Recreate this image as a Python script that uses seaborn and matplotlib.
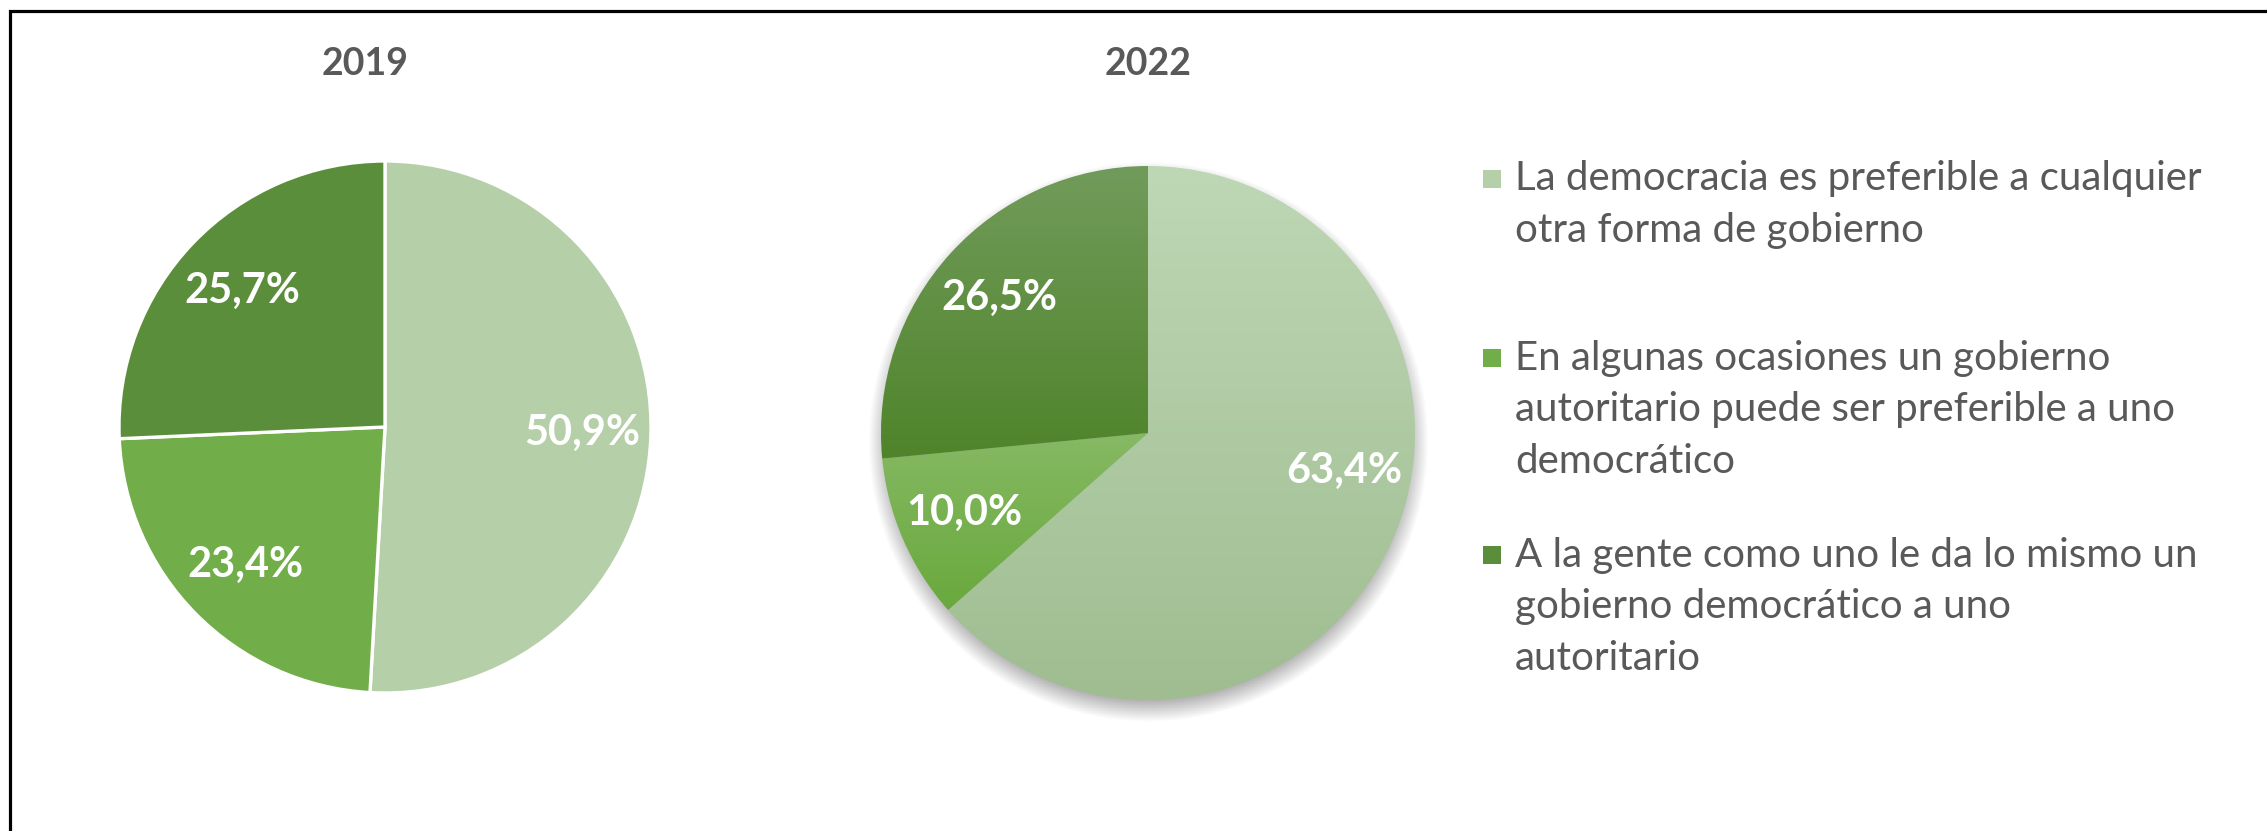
import matplotlib.pyplot as plt
import numpy as np
import seaborn as sns
from matplotlib.colors import LinearSegmentedColormap

sns.set_theme(style="white")
plt.rcParams['font.family'] = ['Lato', 'DejaVu Sans']

# Data
categories = [
    "La democracia es preferible a cualquier\notra forma de gobierno",
    "En algunas ocasiones un gobierno\nautoritario puede ser preferible a uno\ndemocrático",
    "A la gente como uno le da lo mismo un\ngobierno democrático a uno\nautoritario",
]
years = ["2019", "2022"]
values_2019 = [50.9, 23.4, 25.7]
values_2022 = [63.4, 10.0, 26.5]

colors = ["#B5CFA8", "#71AD48", "#5B8E3A"]
# top / bottom colours of the gradient fill used in 2022
grad_2022 = [("#BED7B5", "#9FBD91"), ("#86B964", "#69A93C"), ("#719B5B", "#4F842A")]
text_grey = "#595959"

W, H = 2267, 831
fig = plt.figure(figsize=(W / 100, H / 100), dpi=100)


def make_fmt(vals):
    total = sum(vals)
    return lambda p: f"{p * total / 100:.1f}%".replace(".", ",")


def pie_axes(cx, cy, r):
    return fig.add_axes([(cx - r) / W, (H - cy - r) / H, 2 * r / W, 2 * r / H])


label_props = dict(color="white", fontsize=30, fontweight="bold")

# 2019 pie: flat colours, white separators
ax1 = pie_axes(385, 427, 266)
wedges1, _, auto1 = ax1.pie(values_2019, colors=colors, startangle=90, counterclock=False,
                            autopct=make_fmt(values_2019), pctdistance=0.74,
                            wedgeprops=dict(edgecolor="white", linewidth=2.4),
                            textprops=label_props)
ax1.set_xlim(-1, 1)
ax1.set_ylim(-1, 1)
ax1.set_aspect("equal")
ax1.axis("off")

# 2022 pie: gradient fill with soft shadow
ax2 = pie_axes(1148, 433, 267)
wedges2, _, auto2 = ax2.pie(values_2022, colors=colors, startangle=90, counterclock=False,
                            autopct=make_fmt(values_2022), pctdistance=0.75,
                            wedgeprops=dict(linewidth=0),
                            textprops=label_props)
# the big slice label sits closer to the horizontal (best-fit placement)
ang = np.deg2rad(-11)
auto2[0].set_position((0.75 * np.cos(ang), 0.75 * np.sin(ang)))

grad = np.linspace(0, 1, 256).reshape(-1, 1)
for w, (c_top, c_bot) in zip(wedges2, grad_2022):
    bb = w.get_path().get_extents()
    cmap = LinearSegmentedColormap.from_list("g", [c_top, c_bot])
    im = ax2.imshow(grad, cmap=cmap, extent=(bb.x0, bb.x1, bb.y0, bb.y1),
                    origin="upper", aspect="auto", zorder=w.get_zorder())
    im.set_clip_path(w)
    w.set_facecolor("none")

# soft shadow under the 2022 pie
n = 400
gx, gy = np.meshgrid(np.linspace(-1.12, 1.12, n), np.linspace(-1.12, 1.12, n))
rr = np.hypot(gx, gy + 0.035)
alpha = np.clip((1.05 - rr) / 0.08, 0, 1) * 0.3
shadow = np.zeros((n, n, 4))
shadow[..., 3] = alpha
ax2.imshow(shadow, extent=(-1.12, 1.12, -1.12, 1.12), origin="lower", zorder=0, clip_on=False)
ax2.set_xlim(-1, 1)
ax2.set_ylim(-1, 1)
ax2.set_aspect("equal")
ax2.axis("off")
for t in auto2:
    t.set_zorder(5)

# overlay axes in pixel units for titles, legend and frame
ov = fig.add_axes([0, 0, 1, 1], zorder=-1)
ov.set_xlim(0, W)
ov.set_ylim(H, 0)
ov.axis("off")

for year, x in zip(years, [365, 1148]):
    fig.text(x / W, 1 - 64 / H, year, ha="center", va="center", fontsize=27,
             fontweight="bold", color=text_grey)

# legend (marker next to the first line of each entry)
first_baselines = [190, 369, 566]
line_px = 52
for lab, col, yb in zip(categories, colors, first_baselines):
    nlines = lab.count("\n") + 1
    ov.scatter([1492], [yb - 11], marker="s", s=150, color=col, linewidths=0)
    ov.text(1515, yb + (nlines - 1) * line_px, lab, ha="left", va="baseline",
            fontsize=29, color=text_grey, linespacing=1.49)

# chart frame (top and left edges visible)
ov.plot([10, 10, W], [H, 11, 11], color="black", linewidth=2.3, solid_joinstyle="miter")

fig.savefig("out.png", dpi=100)
